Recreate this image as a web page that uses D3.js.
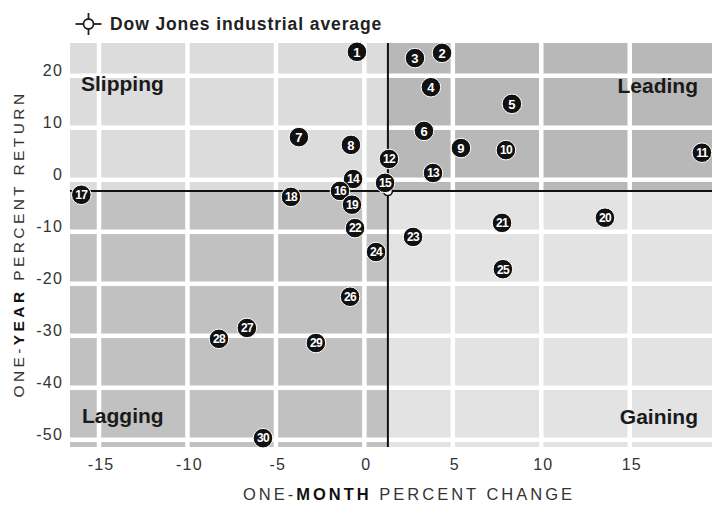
<!DOCTYPE html>
<html><head><meta charset="utf-8">
<script src="https://cdn.jsdelivr.net/npm/d3@7/dist/d3.min.js"></script>
<style>
html,body{margin:0;padding:0;background:#fff;}
svg{display:block;font-family:"Liberation Sans",Arial,Helvetica,sans-serif;}
</style></head>
<body>
<svg id="chart" width="726" height="510"></svg>
<script>
// ---- data ----
const ids     = [1,2,3,4,5,6,7,8,9,10,11,12,13,14,15,16,17,18,19,20,21,22,23,24,25,26,27,28,29,30];
const monthChg = [-0.42,4.39,2.86,3.76,8.34,3.37,-3.70,-0.76,5.46,8.0,19.08,1.39,3.88,-0.64,1.17,-1.38,-16.0,-4.15,-0.70,13.6,7.78,-0.53,2.75,0.66,7.83,-0.81,-6.64,-8.22,-2.74,-5.73];
const yearRet  = [24.6,24.4,23.4,17.8,14.6,9.4,8.2,6.7,6.1,5.7,5.2,4.0,1.3,0.15,-0.6,-2.15,-2.9,-3.3,-4.8,-7.3,-8.3,-9.3,-11.0,-13.9,-17.2,-22.5,-28.5,-30.6,-31.4,-49.7];
const dowMonth = 1.33, dowYear = -2.15;
const xTicks = [-15,-10,-5,0,5,10,15];
const yTicks = [20,10,0,-10,-20,-30,-40,-50];
const quadrantNames = ["Slipping","Leading","Lagging","Gaining"];
const legendLabel = "Dow Jones industrial average";

// ---- scales ----
const svg = d3.select("#chart");
const x = d3.scaleLinear().domain([-16.64, 19.65]).range([70, 712]);
const y = d3.scaleLinear().domain([-51.4, 26.3]).range([447, 43]);
const [x0, x1] = x.range(), [y0b, y0t] = y.range();
const xd = x(dowMonth), yd = y(dowYear);

// ---- quadrant backgrounds ----
const quads = [
  {x:x0, y:y0t, w:xd-x0, h:yd-y0t, c:"#dcdcdc"},
  {x:xd, y:y0t, w:x1-xd, h:yd-y0t, c:"#b8b8b8"},
  {x:x0, y:yd, w:xd-x0, h:y0b-yd, c:"#c1c1c1"},
  {x:xd, y:yd, w:x1-xd, h:y0b-yd, c:"#e3e3e3"}
];
svg.append("g").selectAll("rect").data(quads).join("rect")
  .attr("x",d=>d.x).attr("y",d=>d.y).attr("width",d=>d.w).attr("height",d=>d.h).attr("fill",d=>d.c);

// white grid
const grid = svg.append("g").attr("stroke","#fff").attr("stroke-width",4.5);
grid.selectAll("line.v").data(xTicks).join("line").attr("class","v")
  .attr("x1",d=>x(d)).attr("x2",d=>x(d)).attr("y1",y0t).attr("y2",y0b);
grid.selectAll("line.h").data(yTicks).join("line").attr("class","h")
  .attr("x1",x0).attr("x2",x1).attr("y1",d=>y(d)).attr("y2",d=>y(d));

// Dow axes
svg.append("line").attr("x1",x0).attr("x2",x1).attr("y1",yd).attr("y2",yd).attr("stroke","#111").attr("stroke-width",2);
svg.append("line").attr("x1",xd).attr("x2",xd).attr("y1",y0t).attr("y2",y0b).attr("stroke","#111").attr("stroke-width",2);
svg.append("circle").attr("cx",xd).attr("cy",yd).attr("r",4.5).attr("fill","#fff").attr("stroke","#111").attr("stroke-width",1.6);

// quadrant labels
const ql = svg.append("g").attr("font-weight","bold").attr("font-size",21).attr("fill","#1a1a1a");
ql.append("text").attr("x",81).attr("y",91).text(quadrantNames[0]);
ql.append("text").attr("x",698).attr("y",93).attr("text-anchor","end").text(quadrantNames[1]);
ql.append("text").attr("x",82).attr("y",423).text(quadrantNames[2]);
ql.append("text").attr("x",698).attr("y",424).attr("text-anchor","end").text(quadrantNames[3]);

// points
const pts = ids.map((id,i)=>({id, m:monthChg[i], r:yearRet[i]}));
const pg = svg.append("g").selectAll("g").data(pts).join("g")
  .attr("transform",d=>`translate(${x(d.m)},${y(d.r)})`);
pg.append("circle").attr("r",9.8).attr("fill","#111").attr("stroke","#fff").attr("stroke-width",1);
pg.append("text").attr("text-anchor","middle").attr("dy","0.36em")
  .attr("font-size",d=>d.id>=10?12:13).attr("font-weight","bold").attr("fill","#fff")
  .attr("letter-spacing",d=>d.id>=10?-0.7:0)
  .text(d=>d.id);

// tick labels
const tk = svg.append("g").attr("font-size",16).attr("fill","#333");
tk.selectAll("text.x").data(xTicks).join("text").attr("class","x")
  .attr("x",d=>x(d)+2).attr("y",470).attr("text-anchor","middle").attr("letter-spacing",1.2).text(d=>d);
tk.selectAll("text.y").data(yTicks).join("text").attr("class","y")
  .attr("x",63).attr("y",d=>y(d)+0).attr("text-anchor","end").attr("letter-spacing",1.2).text(d=>d);

// axis titles
const xt = svg.append("text").attr("x",409).attr("y",500).attr("text-anchor","middle")
  .attr("font-size",16.5).attr("fill","#333").attr("letter-spacing",3);
xt.append("tspan").text("ONE-");
xt.append("tspan").attr("font-weight","bold").attr("fill","#111").text("MONTH");
xt.append("tspan").text(" PERCENT CHANGE");

const yt = svg.append("text").attr("transform","translate(24,244) rotate(-90)").attr("text-anchor","middle")
  .attr("font-size",15.5).attr("fill","#333").attr("letter-spacing",3.4);
yt.append("tspan").text("ONE-");
yt.append("tspan").attr("font-weight","bold").attr("fill","#111").text("YEAR");
yt.append("tspan").text(" PERCENT RETURN");

// legend
const lg = svg.append("g").attr("transform","translate(88.5,24)");
lg.append("line").attr("x1",-13).attr("x2",13).attr("stroke","#222").attr("stroke-width",1.8);
lg.append("line").attr("y1",-11).attr("y2",11).attr("stroke","#222").attr("stroke-width",1.8);
lg.append("circle").attr("r",5).attr("fill","#fff").attr("stroke","#222").attr("stroke-width",1.8);
svg.append("text").attr("x",110).attr("y",30).attr("font-size",17.5).attr("font-weight","bold")
  .attr("fill","#222").attr("letter-spacing",0.9).text(legendLabel);
</script>
</body></html>
